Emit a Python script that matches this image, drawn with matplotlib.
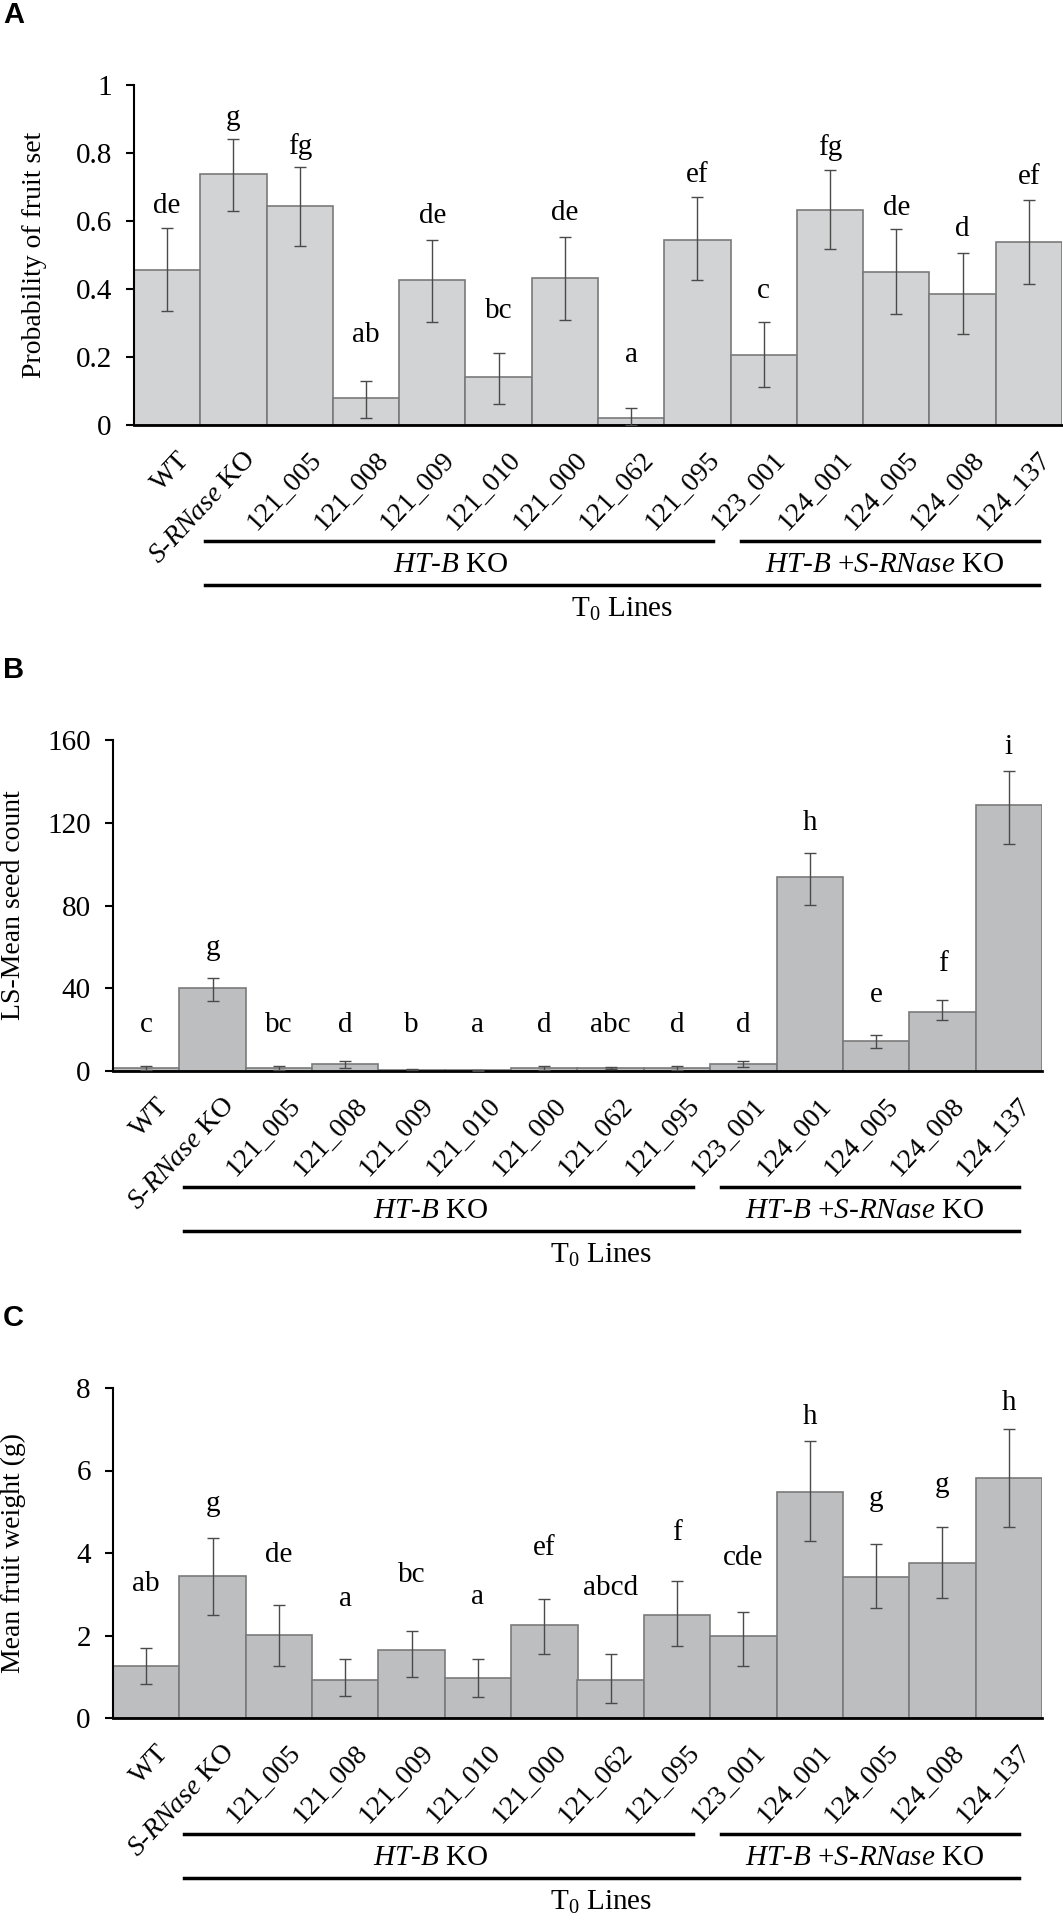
import numpy as np
import matplotlib
matplotlib.use("Agg")
import matplotlib.pyplot as plt
from matplotlib.transforms import blended_transform_factory, ScaledTranslation

plt.rcParams['font.family'] = ['Liberation Serif', 'DejaVu Serif']
plt.rcParams['mathtext.fontset'] = 'custom'
plt.rcParams['mathtext.rm'] = 'Liberation Serif'
plt.rcParams['mathtext.it'] = 'Liberation Serif:italic'

# ---- data ----
lines = ["WT", r"$\mathit{S}$-$\mathit{RNase}$ KO", "121_005", "121_008", "121_009",
         "121_010", "121_000", "121_062", "121_095", "123_001", "124_001",
         "124_005", "124_008", "124_137"]

# A: probability of fruit set
fruitset = [0.455, 0.738, 0.643, 0.079, 0.425, 0.140, 0.432, 0.020, 0.545, 0.207, 0.633, 0.449, 0.386, 0.537]
fruitset_hi = [0.578, 0.841, 0.759, 0.130, 0.545, 0.213, 0.553, 0.050, 0.671, 0.302, 0.751, 0.575, 0.506, 0.661]
fruitset_lo = [0.334, 0.629, 0.525, 0.022, 0.303, 0.063, 0.310, 0.000, 0.425, 0.113, 0.518, 0.327, 0.268, 0.415]
fruitset_grp = ["de", "g", "fg", "ab", "de", "bc", "de", "a", "ef", "c", "fg", "de", "d", "ef"]
fruitset_grp_y = [0.645, 0.903, 0.82, 0.266, 0.614, 0.334, 0.624, 0.207, 0.736, 0.393, 0.815, 0.638, 0.576, 0.729]

# B: LS-mean seed count
seeds = [1.5, 40.0, 1.5, 3.6, 0.6, 0.3, 1.5, 1.5, 1.5, 3.6, 93.6, 14.6, 28.5, 128.4]
seeds_hi = [2.6, 45.0, 2.6, 4.6, 0.8, 0.4, 2.6, 1.8, 2.6, 4.6, 105.2, 17.4, 34.4, 144.9]
seeds_lo = [0.4, 34.0, 0.4, 1.6, 0.4, 0.2, 0.4, 1.2, 0.4, 1.8, 80.3, 11.0, 24.8, 109.9]
seeds_grp = ["c", "g", "bc", "d", "b", "a", "d", "abc", "d", "d", "h", "e", "f", "i"]
seeds_grp_y = [22.2, 59.3, 22.2, 22.2, 22.2, 22.2, 22.2, 22.2, 22.2, 22.2, 119.8, 36.6, 51.8, 156.5]

# C: mean fruit weight (g)
weight = [1.25, 3.45, 2.01, 0.93, 1.64, 0.98, 2.25, 0.93, 2.50, 1.98, 5.48, 3.41, 3.75, 5.81]
weight_hi = [1.69, 4.36, 2.73, 1.43, 2.10, 1.43, 2.89, 1.54, 3.31, 2.56, 6.71, 4.21, 4.64, 7.01]
weight_lo = [0.82, 2.49, 1.25, 0.53, 1.00, 0.51, 1.54, 0.37, 1.74, 1.25, 4.28, 2.66, 2.92, 4.64]
weight_grp = ["ab", "g", "de", "a", "bc", "a", "ef", "abcd", "f", "cde", "h", "g", "g", "h"]
weight_grp_y = [3.25, 5.18, 3.96, 2.88, 3.47, 2.94, 4.12, 3.14, 4.49, 3.88, 7.29, 5.30, 5.64, 7.63]

W, H = 1063, 1920
fig = plt.figure(figsize=(W / 100, H / 100), dpi=100)


def fy(py):
    return 1 - py / H


def panel(letter, left, right, y0, ytop, vals, hi, lo, grp, grp_y, ylim, yticks, yticklabels,
          ylabel, face, ylab_x):
    ax = fig.add_axes([left / W, fy(y0), (right - left) / W, (y0 - ytop) / H])
    x = np.arange(len(vals))
    vals = np.array(vals)
    yerr = [vals - np.array(lo), np.array(hi) - vals]
    ax.bar(x, vals, width=1.0, color=face, edgecolor='#7a7a7a', linewidth=1.2, zorder=2)
    ax.errorbar(x, vals, yerr=yerr, fmt='none', ecolor='#4a4a4a', elinewidth=1.0,
                capsize=4.5, capthick=1.0, zorder=3)
    for xi, g, gy in zip(x, grp, grp_y):
        ax.text(xi, gy, g, ha='center', va='center', fontsize=21)

    ax.set_xlim(-0.5, len(vals) - 0.5)
    ax.set_ylim(*ylim)
    ax.set_yticks(yticks)
    ax.set_yticklabels(yticklabels, fontsize=21)
    ax.set_ylabel(ylabel, fontsize=20)
    ax.yaxis.set_label_coords(ylab_x, 0.5)
    for s in ['top', 'right']:
        ax.spines[s].set_visible(False)
    ax.spines['left'].set_linewidth(1.5)
    ax.spines['bottom'].set_linewidth(2.0)
    ax.tick_params(axis='y', direction='out', length=6, width=1.5, pad=10)

    ax.set_xticks(x)
    ax.set_xticklabels(lines, rotation=47, ha='right', rotation_mode='anchor', fontsize=20)
    ax.tick_params(axis='x', length=0, pad=16)
    off = ScaledTranslation(0.09, 0, fig.dpi_scale_trans)
    for lab in ax.get_xticklabels():
        lab.set_transform(lab.get_transform() + off)

    # group annotation below the axis
    tr = blended_transform_factory(ax.transData, fig.transFigure)
    ax.plot([0.57, 8.24], [fy(y0 + 116)] * 2, color='black', lw=2.5, transform=tr, clip_on=False)
    ax.plot([8.66, 13.15], [fy(y0 + 116)] * 2, color='black', lw=2.5, transform=tr, clip_on=False)
    ax.text(4.28, fy(y0 + 140), r"$\mathit{HT}$-$\mathit{B}$ KO", transform=tr,
            ha='center', va='center', fontsize=21)
    ax.text(10.83, fy(y0 + 140), r"$\mathit{HT}$-$\mathit{B}$ +$\mathit{S}$-$\mathit{RNase}$ KO",
            transform=tr, ha='center', va='center', fontsize=21)
    ax.plot([0.57, 13.15], [fy(y0 + 160)] * 2, color='black', lw=2.5, transform=tr, clip_on=False)
    ax.text(6.86, fy(y0 + 184), r"T$_0$ Lines", transform=tr, ha='center', va='center',
            fontsize=21)

    fig.text(0.003, fy(ytop - 70), letter, ha='left', va='center', fontsize=21,
             fontweight='bold', family='Liberation Sans')
    return ax


panel('A', 134, 1062, 425, 85, fruitset, fruitset_hi, fruitset_lo, fruitset_grp, fruitset_grp_y,
      (0, 1), [0, 0.2, 0.4, 0.6, 0.8, 1], ['0', '0.2', '0.4', '0.6', '0.8', '1'],
      'Probability of fruit set', '#d1d3d4', -0.094)
panel('B', 113, 1042, 1071, 740, seeds, seeds_hi, seeds_lo, seeds_grp, seeds_grp_y,
      (0, 160), [0, 40, 80, 120, 160], ['0', '40', '80', '120', '160'],
      'LS-Mean seed count', '#bcbec0', -0.094)
panel('C', 113, 1042, 1718, 1388, weight, weight_hi, weight_lo, weight_grp, weight_grp_y,
      (0, 8), [0, 2, 4, 6, 8], ['0', '2', '4', '6', '8'],
      'Mean fruit weight (g)', '#bcbec0', -0.094)

fig.savefig('out.png', dpi=100)
